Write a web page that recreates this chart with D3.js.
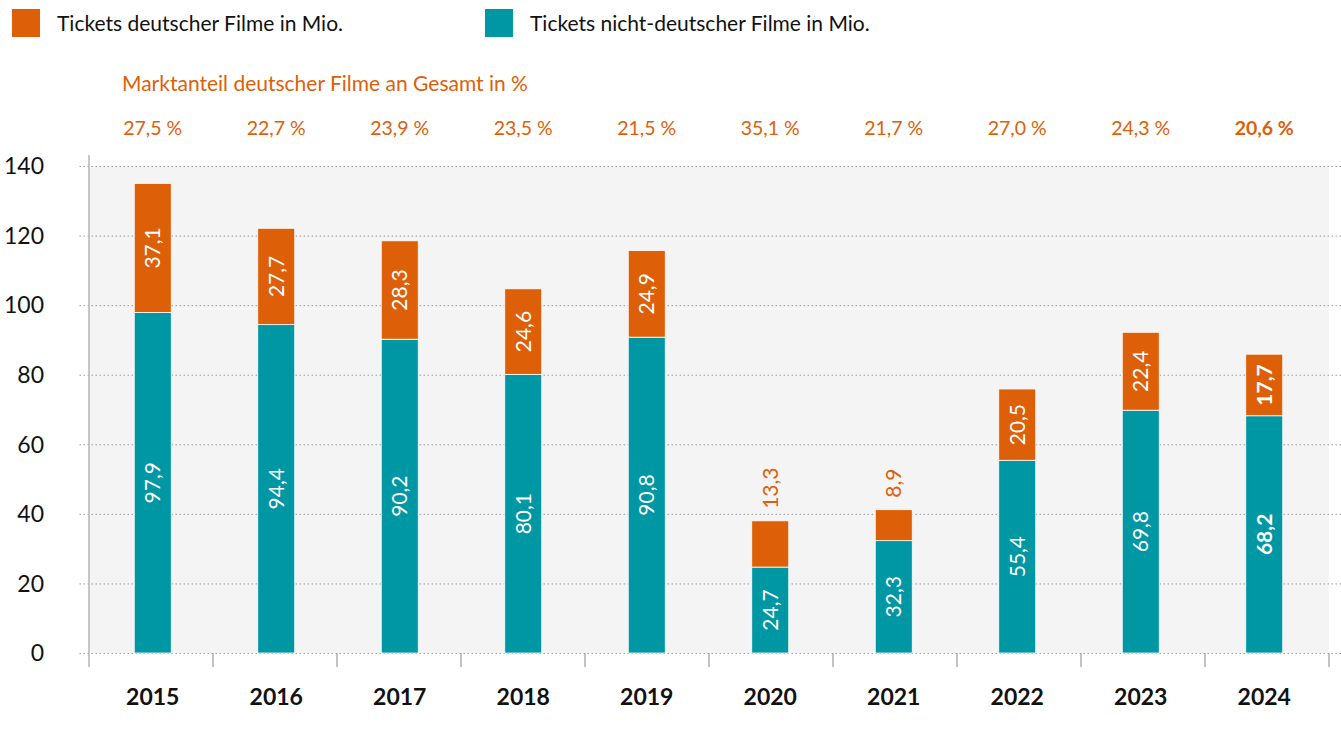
<!DOCTYPE html>
<html>
<head>
<meta charset="utf-8">
<script src="https://cdn.jsdelivr.net/npm/d3@7/dist/d3.min.js"></script>
<style>
    body { margin: 0; background: #fff; }
    svg { display: block; font-family: "Lato", "Noto Sans", sans-serif; }
    .grid line { stroke: #9a9a9a; stroke-dasharray: 1.5,2.5; }
    .grid path { display: none; }
    .ytick text { font-size: 23px; fill: #111; }
    .xlab { font-size: 23px; font-weight: bold; fill: #111; text-anchor: middle; }
    .share { font-size: 19.5px; fill: #dd6008; text-anchor: middle; }
    .lbl { font-size: 21px; }
</style>
</head>
<body>
<svg id="chart"></svg>
<script>
var years = ["2015", "2016", "2017", "2018", "2019", "2020", "2021", "2022", "2023", "2024"];
var germanTickets = [37.1, 27.7, 28.3, 24.6, 24.9, 13.3, 8.9, 20.5, 22.4, 17.7];
var otherTickets = [97.9, 94.4, 90.2, 80.1, 90.8, 24.7, 32.3, 55.4, 69.8, 68.2];
var germanShare = [27.5, 22.7, 23.9, 23.5, 21.5, 35.1, 21.7, 27.0, 24.3, 20.6];
var yTicks = [0, 20, 40, 60, 80, 100, 120, 140];
var seriesNames = ["Tickets deutscher Filme in Mio.", "Tickets nicht-deutscher Filme in Mio."];

var orange = "#dd6008", teal = "#0097a4";
var width = 1341, height = 731;
var plotLeft = 89, plotRight = 1329, plotTop = 166, plotBottom = 653;

var de = d3.formatLocale({ decimal: ",", thousands: ".", grouping: [3], currency: ["", " €"] });
var fmt = de.format(".1f");

var svg = d3.select("#chart").attr("width", width).attr("height", height);

var x = d3.scaleBand().domain(years).range([plotLeft + 2, plotRight - 3]);
var y = d3.scaleLinear().domain([0, 140]).range([plotBottom, plotTop]);

// plot background
svg.append("rect")
    .attr("x", plotLeft).attr("y", plotTop)
    .attr("width", plotRight - plotLeft).attr("height", plotBottom - plotTop)
    .attr("fill", "#f4f4f4");

// gridlines
svg.append("g").attr("class", "grid")
    .attr("transform", "translate(" + width + ",0)")
    .call(d3.axisLeft(y).tickValues(yTicks).tickSize(width - 79).tickFormat(""));

// y tick labels
svg.append("g").attr("class", "ytick")
    .selectAll("text").data(yTicks).enter().append("text")
    .attr("x", 44).attr("y", function (d) { return y(d); })
    .attr("dy", "0.36em").attr("text-anchor", "end")
    .text(function (d) { return d; });

// left axis line
svg.append("line")
    .attr("x1", plotLeft).attr("x2", plotLeft).attr("y1", 155).attr("y2", 667)
    .attr("stroke", "#b5b5b5").attr("stroke-width", 1.5);

// x ticks at category boundaries
var bounds = d3.range(years.length + 1).map(function (i) { return plotLeft + i * (plotRight - plotLeft) / years.length; });
svg.append("g").selectAll("line").data(bounds.slice(1)).enter().append("line")
    .attr("x1", function (d) { return d; }).attr("x2", function (d) { return d; })
    .attr("y1", plotBottom).attr("y2", 667)
    .attr("stroke", "#9a9a9a").attr("stroke-width", 1.2);

var data = years.map(function (yr, i) {
    return { year: yr, de: germanTickets[i], other: otherTickets[i], share: germanShare[i], last: i === years.length - 1 };
});

var bw = 37;
var bars = svg.append("g").selectAll("g").data(data).enter().append("g")
    .attr("transform", function (d) { return "translate(" + (x(d.year) + x.bandwidth() / 2) + ",0)"; });

bars.append("rect")
    .attr("x", -bw / 2).attr("width", bw)
    .attr("y", function (d) { return y(d.other); })
    .attr("height", function (d) { return y(0) - y(d.other); })
    .attr("fill", teal).attr("stroke", "#fff").attr("stroke-width", 0.8);

bars.append("rect")
    .attr("x", -bw / 2).attr("width", bw)
    .attr("y", function (d) { return y(d.other + d.de); })
    .attr("height", function (d) { return y(d.other) - y(d.other + d.de); })
    .attr("fill", orange).attr("stroke", "#fff").attr("stroke-width", 0.8);

// in-bar labels
bars.append("text").attr("class", "lbl")
    .attr("transform", function (d) { return "translate(0," + (y(d.other / 2)) + ") rotate(-90)"; })
    .attr("text-anchor", "middle").attr("dy", "0.36em")
    .attr("fill", "#fff")
    .attr("font-weight", function (d) { return d.last ? "bold" : null; })
    .text(function (d) { return fmt(d.other); });

// small german segments get their label above the bar
bars.append("text").attr("class", "lbl")
    .attr("transform", function (d) {
        if (d.de < 15) return "translate(0," + (y(d.other + d.de) - 12) + ") rotate(-90)";
        return "translate(0," + y(d.other + d.de / 2) + ") rotate(-90)";
    })
    .attr("text-anchor", function (d) { return d.de < 15 ? "start" : "middle"; })
    .attr("dy", "0.36em")
    .attr("fill", function (d) { return d.de < 15 ? orange : "#fff"; })
    .attr("font-weight", function (d) { return d.last ? "bold" : null; })
    .text(function (d) { return fmt(d.de); });

// year labels
svg.append("g").selectAll("text").data(data).enter().append("text")
    .attr("class", "xlab")
    .attr("x", function (d) { return x(d.year) + x.bandwidth() / 2; })
    .attr("y", 705)
    .text(function (d) { return d.year; });

// market share row
svg.append("text")
    .attr("x", 122).attr("y", 91)
    .attr("font-size", 21).attr("fill", orange)
    .text("Marktanteil deutscher Filme an Gesamt in %");

svg.append("g").selectAll("text").data(data).enter().append("text")
    .attr("class", "share")
    .attr("x", function (d) { return x(d.year) + x.bandwidth() / 2; })
    .attr("y", 135)
    .attr("font-weight", function (d) { return d.last ? "bold" : null; })
    .text(function (d) { return fmt(d.share) + " %"; });

// legend
var legend = svg.append("g").selectAll("g").data(seriesNames).enter().append("g")
    .attr("transform", function (d, i) { return "translate(" + (i === 0 ? 12 : 485) + ",9)"; });
legend.append("rect").attr("width", 28).attr("height", 28)
    .attr("fill", function (d, i) { return i === 0 ? orange : teal; });
legend.append("text").attr("x", 45).attr("y", 14).attr("dy", "0.36em")
    .attr("font-size", 21).attr("fill", "#111")
    .text(function (d) { return d; });
</script>
</body>
</html>
